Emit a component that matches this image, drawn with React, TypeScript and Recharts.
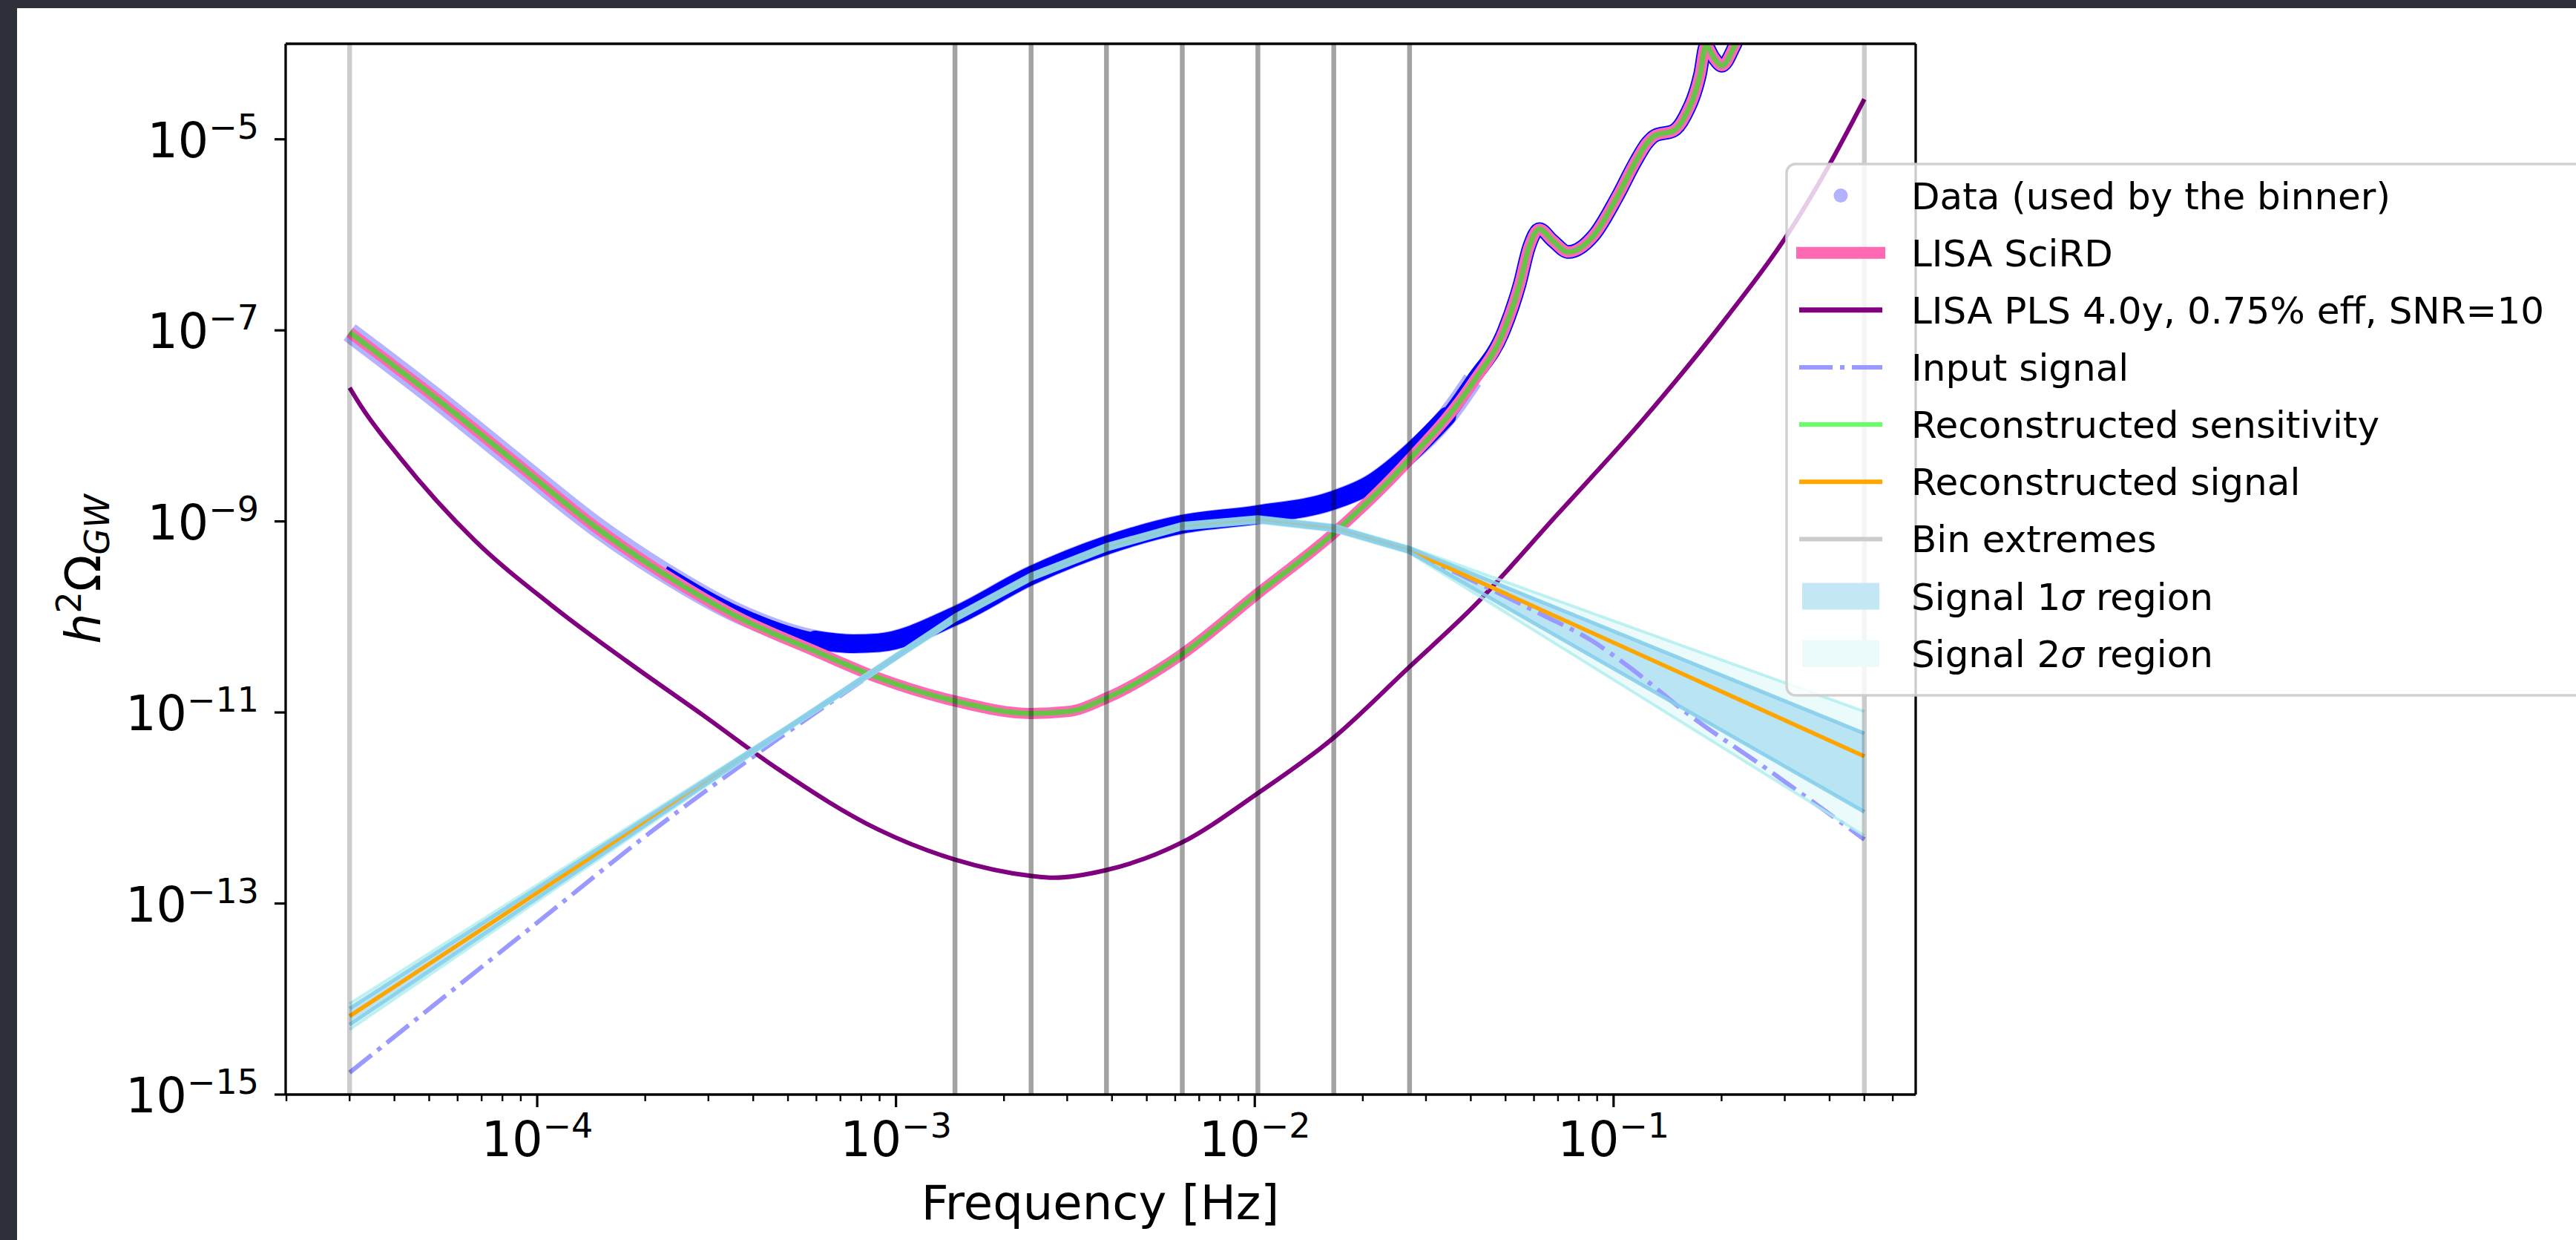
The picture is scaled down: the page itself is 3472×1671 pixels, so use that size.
import React from "react";
import { ComposedChart, Line, Area, XAxis, YAxis, ReferenceLine } from "recharts";

const FONT = "'DejaVu Sans', 'Liberation Sans', sans-serif";
const MINUS = "\u2212";

// all values: [frequency (Hz), h^2 Omega_GW]

// LISA SciRD sensitivity curve
const sciRD: [number, number][] = [
  [3.0e-5, 9.55e-8], [5.26e-5, 1.905e-8], [8.95e-5, 3.8e-9], [1.455e-4, 8.71e-10],
  [2.254e-4, 2.82e-10], [3.66e-4, 9.77e-11], [5.96e-4, 4.37e-11], [8.97e-4, 2.29e-11],
  [1.459e-3, 1.318e-11], [2.371e-3, 9.77e-12], [3.02e-3, 1.023e-11], [3.855e-3, 1.413e-11],
  [6.27e-3, 4.07e-11], [1.016e-2, 1.738e-10], [1.652e-2, 7.41e-10], [2.685e-2, 4.37e-9],
  [4.05e-2, 2.82e-8], [4.95e-2, 1.0e-7], [5.47e-2, 3.02e-7], [5.81e-2, 7.41e-7],
  [6.21e-2, 1.148e-6], [6.76e-2, 8.71e-7], [7.48e-2, 6.61e-7], [8.83e-2, 1.0e-6],
  [0.1021, 2.455e-6], [0.1153, 5.89e-6], [0.1239, 9.12e-6], [0.1306, 1.096e-5],
  [0.1469, 1.23e-5], [0.1585, 1.778e-5], [0.1742, 4.79e-5], [0.1807, 9.55e-5],
  [0.1905, 7.08e-5], [0.2004, 5.89e-5], [0.2168, 9.33e-5], [0.2399, 2.51e-4],
];

// reconstructed sensitivity sits right on top of the SciRD curve
const recSensitivity: [number, number][] = sciRD;

// power-law sensitivity, 4 yr, 0.75% efficiency, SNR 10
const pls: [number, number][] = [
  [3.0e-5, 2.51e-8], [3.236e-5, 1.585e-8], [4.12e-5, 4.79e-9], [6.7e-5, 6.31e-10],
  [1.089e-4, 1.349e-10], [1.77e-4, 3.47e-11], [2.877e-4, 9.55e-12], [4.677e-4, 2.57e-12],
  [8.97e-4, 5.89e-13], [1.459e-3, 2.884e-13], [2.371e-3, 1.95e-13], [2.748e-3, 1.862e-13],
  [3.855e-3, 2.239e-13], [6.27e-3, 4.365e-13], [1.016e-2, 1.413e-12], [1.652e-2, 5.37e-12],
  [2.685e-2, 2.95e-11], [4.05e-2, 1.259e-10], [7.0e-2, 1.202e-9], [0.1211, 1.175e-8],
  [0.208, 1.413e-7], [0.3, 9.12e-7], [0.3936, 4.9e-6], [0.5, 2.63e-5],
];

// centre line of the binned data cloud
const binnerData: [number, number][] = [
  [3.0e-5, 9.55e-8], [5.26e-5, 1.905e-8], [8.95e-5, 3.8e-9], [1.455e-4, 8.91e-10],
  [2.254e-4, 2.95e-10], [3.66e-4, 1.072e-10], [5.96e-4, 5.75e-11], [7.6e-4, 5.25e-11],
  [8.97e-4, 5.37e-11], [1.459e-3, 1.023e-10], [2.371e-3, 2.69e-10], [3.855e-3, 5.62e-10],
  [6.27e-3, 9.33e-10], [1.016e-2, 1.175e-9], [1.652e-2, 1.66e-9], [2.104e-2, 2.455e-9],
  [2.685e-2, 5.01e-9], [3.43e-2, 1.259e-8], [4.05e-2, 3.02e-8], [4.95e-2, 1.0e-7],
  [5.47e-2, 3.02e-7], [5.81e-2, 7.41e-7], [6.21e-2, 1.148e-6], [6.76e-2, 8.71e-7],
  [7.48e-2, 6.61e-7], [8.83e-2, 1.0e-6], [0.1021, 2.455e-6], [0.1153, 5.89e-6],
  [0.1239, 9.12e-6], [0.1306, 1.096e-5], [0.1469, 1.23e-5], [0.1585, 1.778e-5],
  [0.1742, 4.79e-5], [0.1807, 9.55e-5], [0.1905, 7.08e-5], [0.2004, 5.89e-5],
  [0.2168, 9.33e-5], [0.2399, 2.51e-4],
];

// injected signal
const inputSignal: [number, number][] = [
  [3.0e-5, 1.698e-15], [1.0e-4, 6.31e-14], [2.06e-4, 5.5e-13], [4.68e-4, 5.25e-12],
  [8.97e-4, 2.82e-11], [1.46e-3, 9.55e-11], [2.38e-3, 2.57e-10], [3.86e-3, 5.25e-10],
  [6.28e-3, 8.71e-10], [1.02e-2, 1.023e-9], [1.66e-2, 8.32e-10], [2.7e-2, 4.79e-10],
  [4.05e-2, 2.4e-10], [6.27e-2, 1.072e-10], [8.71e-2, 5.62e-11], [0.1084, 3.16e-11],
  [0.1618, 9.55e-12], [0.2742, 2.4e-12], [0.5, 4.68e-13],
];

// bins used by the reconstruction
const binEdges = [3.0e-5, 1.46e-3, 2.38e-3, 3.86e-3, 6.28e-3, 1.02e-2, 1.66e-2, 2.7e-2, 0.5];

// reconstructed signal and its 1/2 sigma envelopes
const bandFreqs = [3.0e-5, 5.0e-4, 1.46e-3, 2.38e-3, 3.86e-3, 6.28e-3, 1.02e-2, 1.66e-2, 2.7e-2, 0.5];
const recSignal = [6.61e-15, 6.92e-12, 9.77e-11, 2.63e-10, 5.37e-10, 8.91e-10, 1.047e-9, 8.51e-10, 5.01e-10, 3.47e-12];
const sigma1Low = [5.37e-15, 6.76e-12, 9.33e-11, 2.51e-10, 5.13e-10, 8.51e-10, 1.0e-9, 8.13e-10, 4.79e-10, 9.12e-13];
const sigma1High = [7.94e-15, 7.08e-12, 1.023e-10, 2.75e-10, 5.62e-10, 9.33e-10, 1.096e-9, 8.91e-10, 5.25e-10, 6.03e-12];
const sigma2Low = [4.79e-15, 6.61e-12, 9.12e-11, 2.455e-10, 5.01e-10, 8.32e-10, 9.77e-10, 7.94e-10, 4.68e-10, 5.13e-13];
const sigma2High = [8.91e-15, 7.24e-12, 1.047e-10, 2.82e-10, 5.75e-10, 9.55e-10, 1.122e-9, 9.12e-10, 5.37e-10, 1.023e-11];

const xDomain = [1.99e-5, 0.695];
const yDomain = [1e-15, 1e-4];
const yMajor = [1e-15, 1e-13, 1e-11, 1e-9, 1e-7, 1e-5];

const xTicks: number[] = [];
for (let d = -5; d <= -1; d++) {
  for (let k = 1; k <= 9; k++) {
    const v = k * Math.pow(10, d);
    if (v >= xDomain[0] && v <= xDomain[1]) xTicks.push(v);
  }
}

const legendItems = [
  { label: "Data (used by the binner)", kind: "dot", color: "#0000ff" },
  { label: "LISA SciRD", kind: "line", color: "#ff69b4", width: 16 },
  { label: "LISA PLS 4.0y, 0.75% eff, SNR=10", kind: "line", color: "#800080", width: 7 },
  { label: "Input signal", kind: "dashdot", color: "#9999ff", width: 6 },
  { label: "Reconstructed sensitivity", kind: "line", color: "#66ff66", width: 6 },
  { label: "Reconstructed signal", kind: "line", color: "#ffa500", width: 6 },
  { label: "Bin extremes", kind: "line", color: "#cccccc", width: 6 },
  { label: "Signal 1", sigma: true, kind: "patch", color: "#c3e7f5" },
  { label: "Signal 2", sigma: true, kind: "patch", color: "#ebfafa" },
];

const pts = (arr: [number, number][]) => arr.map(([f, y]) => ({ f, y }));

const bandPts = bandFreqs.map((f, i) => ({
  f,
  rec: recSignal[i],
  lo1: sigma1Low[i],
  hi1: sigma1High[i],
  lo2: sigma2Low[i],
  hi2: sigma2High[i],
}));

// every bin draws both of its edges, so shared edges come out darker
const edgeCounts = binEdges.map((_, i) => (i === 0 || i === binEdges.length - 1 ? 1 : 2));

const isMajor = (v: number) => Math.abs(Math.log10(v) - Math.round(Math.log10(v))) < 1e-9;

const XTick = (props: any) => {
  const { x, y, payload } = props;
  const v = payload.value;
  const major = isMajor(v);
  const exp = Math.round(Math.log10(v));
  return (
    <g>
      <line x1={x} x2={x} y1={y} y2={y + (major ? 17 : 9)} stroke="#000" strokeWidth={major ? 3.2 : 2.4} />
      {major && (
        <text x={x} y={y + 83} textAnchor="middle" fontFamily={FONT} fontSize={65} fill="#000">
          10
          <tspan dy={-25} fontSize={46}>{MINUS + -exp}</tspan>
        </text>
      )}
    </g>
  );
};

const YTick = (props: any) => {
  const { x, y, payload } = props;
  const exp = Math.round(Math.log10(payload.value));
  return (
    <g>
      <line x1={x - 15} x2={x} y1={y} y2={y} stroke="#000" strokeWidth={3.2} />
      <text x={x - 36} y={y + 24} textAnchor="end" fontFamily={FONT} fontSize={65} fill="#000">
        10
        <tspan dy={-25} fontSize={46}>{MINUS + -exp}</tspan>
      </text>
    </g>
  );
};

const common = { isAnimationActive: false, dot: false, activeDot: false, legendType: "none" as const };

function Legend() {
  const left = 2408;
  const top = 221;
  const row0 = 263.5;
  const step = 77.15;
  return (
    <svg
      style={{ position: "absolute", left: 0, top: 0, pointerEvents: "none" }}
      width={3472}
      height={1671}
    >
      <rect x={left} y={top} width={1200} height={716} rx={12} fill="#fff" fillOpacity={0.8} stroke="#cccccc" strokeOpacity={0.9} strokeWidth={3.5} />
      {legendItems.map((it, i) => {
        const cy = row0 + i * step;
        let handle: React.ReactNode = null;
        if (it.kind === "dot") handle = <circle cx={2481} cy={cy} r={9.5} fill={it.color} fillOpacity={0.3} />;
        if (it.kind === "line")
          handle = <line x1={it.width === 16 ? 2421 : 2425} x2={it.width === 16 ? 2541 : 2537} y1={cy} y2={cy} stroke={it.color} strokeWidth={it.width} />;
        if (it.kind === "dashdot")
          handle = <line x1={2425} x2={2537} y1={cy} y2={cy} stroke={it.color} strokeWidth={it.width} strokeDasharray="45 10 6 10" />;
        if (it.kind === "patch") handle = <rect x={2429} y={cy - 18} width={104} height={36} fill={it.color} />;
        return (
          <g key={i}>
            {handle}
            <text x={2576} y={cy + 18} fontFamily={FONT} fontSize={50} fill="#000">
              {it.label}
              {it.sigma && <tspan fontStyle="italic">σ</tspan>}
              {it.sigma && " region"}
            </text>
          </g>
        );
      })}
    </svg>
  );
}

export default function App() {
  const cloud = pts(binnerData);
  const halo = cloud.filter((p) => p.f <= 0.0405);
  const dense = cloud.filter((p) => p.f >= 5.0e-4 && p.f <= 0.0343);
  const outline = cloud.filter((p) => p.f >= 2.0e-4);
  return (
    <div style={{ position: "absolute", left: 0, top: 0, width: 3472, height: 1671, background: "#2d3038", overflow: "hidden" }}>
      <div style={{ position: "absolute", left: 23, top: 11, right: 0, bottom: 0, background: "#fff" }} />
      <div style={{ position: "absolute", left: 0, top: 0 }}>
        <ComposedChart width={3472} height={1671} margin={{ top: 59, right: 890, bottom: 0, left: 0 }}>
          <XAxis
            dataKey="f"
            type="number"
            scale="log"
            domain={xDomain}
            allowDataOverflow
            ticks={xTicks}
            interval={0}
            tick={<XTick />}
            tickLine={false}
            tickSize={0}
            tickMargin={0}
            height={196}
            axisLine={{ stroke: "#000", strokeWidth: 3.3 }}
          />
          <YAxis
            type="number"
            scale="log"
            domain={yDomain}
            allowDataOverflow
            ticks={yMajor}
            interval={0}
            tick={<YTick />}
            tickLine={false}
            tickSize={0}
            tickMargin={0}
            width={385}
            axisLine={{ stroke: "#000", strokeWidth: 3.3 }}
          />

          {/* data cloud: light scatter, thin outline, dense core */}
          <Line {...common} data={halo} dataKey="y" type="monotone" stroke="#b3b3ff" strokeWidth={27} />
          <Line {...common} data={outline} dataKey="y" type="monotone" stroke="#0000ff" strokeWidth={18.5} />
          <Line {...common} data={dense} dataKey="y" type="monotone" stroke="#0000ff" strokeWidth={25} strokeLinecap="round" />

          <Line {...common} data={pts(sciRD)} dataKey="y" type="monotone" stroke="#ff69b4" strokeWidth={15} />
          <Line {...common} data={pts(recSensitivity)} dataKey="y" type="monotone" stroke="#00ff00" strokeOpacity={0.6} strokeWidth={7} />
          <Line {...common} data={pts(pls)} dataKey="y" type="monotone" stroke="#800080" strokeWidth={6} />

          {/* signal bands */}
          <Area {...common} data={bandPts} dataKey={(d: any) => [d.lo2, d.hi2]} type="linear" fill="#afeeee" fillOpacity={0.25} stroke="none" />
          <Area {...common} data={bandPts} dataKey={(d: any) => [d.lo1, d.hi1]} type="linear" fill="#87ceeb" fillOpacity={0.5} stroke="none" />

          <Line {...common} data={pts(inputSignal)} dataKey="y" type="monotone" stroke="#9999ff" strokeWidth={6} strokeDasharray="38 10 6 10" />
          <Line {...common} data={bandPts} dataKey="rec" type="linear" stroke="#ffa500" strokeWidth={5.5} />

          <Line {...common} data={bandPts} dataKey="lo2" type="linear" stroke="#afeeee" strokeOpacity={0.8} strokeWidth={4} />
          <Line {...common} data={bandPts} dataKey="hi2" type="linear" stroke="#afeeee" strokeOpacity={0.8} strokeWidth={4} />
          <Line {...common} data={bandPts} dataKey="lo1" type="linear" stroke="#87ceeb" strokeOpacity={0.9} strokeWidth={5} />
          <Line {...common} data={bandPts} dataKey="hi1" type="linear" stroke="#87ceeb" strokeOpacity={0.9} strokeWidth={5} />

          {binEdges.map((f, i) => (
            <ReferenceLine
              key={"bin" + i}
              x={f}
              stroke={`rgba(0,0,0,${(1 - Math.pow(0.8, edgeCounts[i])).toFixed(3)})`}
              strokeWidth={6.5}
            />
          ))}

          <ReferenceLine y={yDomain[1]} stroke="#000" strokeWidth={3.3} ifOverflow="visible" />
          <ReferenceLine x={xDomain[1]} stroke="#000" strokeWidth={3.3} ifOverflow="visible" />
        </ComposedChart>
      </div>

      <svg style={{ position: "absolute", left: 0, top: 0, pointerEvents: "none" }} width={3472} height={1671}>
        <text x={1483} y={1643} textAnchor="middle" fontFamily={FONT} fontSize={64} fill="#000">
          Frequency [Hz]
        </text>
        <text
          x={135}
          y={767}
          transform="rotate(-90 135 767)"
          textAnchor="middle"
          fontFamily={FONT}
          fontSize={65}
          fill="#000"
        >
          <tspan fontStyle="italic">h</tspan>
          <tspan dy={-26} fontSize={46}>2</tspan>
          <tspan dy={26}>Ω</tspan>
          <tspan dy={12} fontSize={46} fontStyle="italic">GW</tspan>
        </text>
      </svg>

      <Legend />
    </div>
  );
}
